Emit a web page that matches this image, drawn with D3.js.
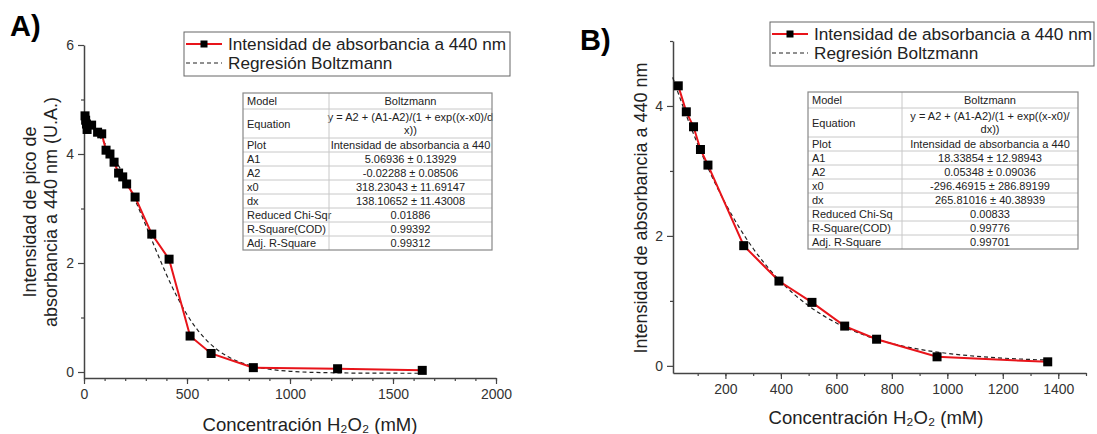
<!DOCTYPE html>
<html>
<head>
<meta charset="utf-8">
<script src="https://cdn.jsdelivr.net/npm/d3@7"></script>
<style>
  body { margin: 0; background: #fff; }
  svg text { font-family: Arial, "Liberation Sans", sans-serif; }
</style>
</head>
<body>
<div id="chart"></div>
<script>
// --- data ---
var concA = [5, 8, 12, 15, 37, 66, 86, 107, 126, 146, 168, 188, 207, 248, 329, 413, 515, 617, 822, 1231, 1642];
var absA  = [4.70, 4.62, 4.55, 4.45, 4.53, 4.40, 4.37, 4.07, 4.00, 3.85, 3.65, 3.58, 3.45, 3.21, 2.53, 2.07, 0.66, 0.34, 0.08, 0.06, 0.03];
var fitConcA = [0, 50, 100, 150, 200, 250, 300, 350, 400, 450, 500, 550, 600, 650, 700, 750, 800, 900, 1000, 1100, 1200, 1400, 1650];
var fitAbsA  = [4.607, 4.430, 4.199, 3.907, 3.551, 3.139, 2.691, 2.231, 1.791, 1.393, 1.054, 0.778, 0.563, 0.400, 0.279, 0.191, 0.128, 0.051, 0.013, -0.005, -0.014, -0.021, -0.023];

var concB = [30, 59, 85, 110, 137, 266, 393, 512, 630, 745, 963, 1362];
var absB  = [4.31, 3.91, 3.68, 3.33, 3.09, 1.85, 1.305, 0.977, 0.612, 0.41, 0.139, 0.062];
var fitConcB = [10, 50, 100, 150, 200, 250, 300, 350, 400, 450, 500, 600, 700, 800, 900, 1000, 1100, 1200, 1300, 1370];
var fitAbsB  = [4.44, 3.959, 3.412, 2.927, 2.500, 2.128, 1.806, 1.530, 1.294, 1.093, 0.924, 0.660, 0.474, 0.344, 0.254, 0.192, 0.149, 0.119, 0.098, 0.088];

var xTicksA = [0, 500, 1000, 1500, 2000];
var yTicksA = [0, 2, 4, 6];
var xTicksB = [200, 400, 600, 800, 1000, 1200, 1400];
var yTicksB = [0, 2, 4];

var legendLabels = ["Intensidad de absorbancia a 440 nm", "Regresión Boltzmann"];

var statsA = [
  ["Model", "Boltzmann"],
  ["Equation", "y = A2 + (A1-A2)/(1 + exp((x-x0)/d", "x))"],
  ["Plot", "Intensidad de absorbancia a 440"],
  ["A1", "5.06936 ± 0.13929"],
  ["A2", "-0.02288 ± 0.08506"],
  ["x0", "318.23043 ± 11.69147"],
  ["dx", "138.10652 ± 11.43008"],
  ["Reduced Chi-Sqr", "0.01886"],
  ["R-Square(COD)", "0.99392"],
  ["Adj. R-Square", "0.99312"]
];
var statsB = [
  ["Model", "Boltzmann"],
  ["Equation", "y = A2 + (A1-A2)/(1 + exp((x-x0)/", "dx))"],
  ["Plot", "Intensidad de absorbancia a 440"],
  ["A1", "18.33854 ± 12.98943"],
  ["A2", "0.05348 ± 0.09036"],
  ["x0", "-296.46915 ± 286.89199"],
  ["dx", "265.81016 ± 40.38939"],
  ["Reduced Chi-Sq", "0.00833"],
  ["R-Square(COD)", "0.99776"],
  ["Adj. R-Square", "0.99701"]
];

var svg = d3.select("#chart").append("svg")
  .attr("width", 1097).attr("height", 434);

// draws one panel
function drawPanel(p) {
  var x = d3.scaleLinear().domain(p.xDomain).range([p.left, p.right]);
  var y = d3.scaleLinear().domain(p.yDomain).range([p.bottom, p.top]);
  var g = svg.append("g");

  // minor ticks
  g.append("g")
    .attr("transform", "translate(0," + p.bottom + ")")
    .call(d3.axisBottom(x).tickValues(p.xMinor).tickSize(3).tickFormat(""))
    .call(function (a) { a.select(".domain").remove(); });
  g.append("g")
    .attr("transform", "translate(" + p.left + ",0)")
    .call(d3.axisLeft(y).tickValues(p.yMinor).tickSize(3).tickFormat(""))
    .call(function (a) { a.select(".domain").remove(); });

  // major axes
  var xa = g.append("g")
    .attr("transform", "translate(0," + p.bottom + ")")
    .call(d3.axisBottom(x).tickValues(p.xTicks).tickFormat(d3.format("d"))
      .tickSize(6).tickSizeOuter(0).tickPadding(5));
  var ya = g.append("g")
    .attr("transform", "translate(" + p.left + ",0)")
    .call(d3.axisLeft(y).tickValues(p.yTicks).tickFormat(d3.format("d"))
      .tickSize(6).tickSizeOuter(0).tickPadding(4));
  [xa, ya].forEach(function (a) {
    a.selectAll("text").style("font-size", "14px").attr("fill", "#333");
  });
  g.selectAll(".domain").attr("stroke", "#444").attr("stroke-width", 1.5);
  g.selectAll(".tick line").attr("stroke", "#444").attr("stroke-width", 1.2);

  // fit curve
  var fit = d3.zip(p.fitX, p.fitY);
  g.append("path")
    .datum(fit)
    .attr("fill", "none")
    .attr("stroke", "#222")
    .attr("stroke-width", 1.2)
    .attr("stroke-dasharray", "4,3")
    .attr("d", d3.line().curve(d3.curveMonotoneX)
      .x(function (d) { return x(d[0]); })
      .y(function (d) { return y(d[1]); }));

  // data line
  var pts = d3.zip(p.dataX, p.dataY);
  g.append("path")
    .datum(pts)
    .attr("fill", "none")
    .attr("stroke", "#e8141a")
    .attr("stroke-width", 2)
    .attr("d", d3.line()
      .x(function (d) { return x(d[0]); })
      .y(function (d) { return y(d[1]); }));

  g.selectAll(".pt")
    .data(pts)
    .enter()
    .append("rect")
      .attr("x", function (d) { return x(d[0]) - 4.5; })
      .attr("y", function (d) { return y(d[1]) - 4.5; })
      .attr("width", 9).attr("height", 9)
      .attr("fill", "#000");

  // axis titles
  g.append("text")
    .attr("x", p.xTitleX).attr("y", p.xTitleY)
    .attr("text-anchor", "middle")
    .style("font-size", "18.5px").attr("fill", "#222")
    .text("Concentración H₂O₂ (mM)");
  p.yTitle.forEach(function (line, i) {
    g.append("text")
      .attr("transform", "translate(" + p.yTitleX[i] + "," + p.yTitleY + ") rotate(-90)")
      .attr("text-anchor", "middle")
      .style("font-size", "18px").attr("fill", "#222")
      .text(line);
  });

  // panel letter
  g.append("text")
    .attr("x", p.letterX).attr("y", p.letterY)
    .style("font-size", "29px").style("font-weight", "bold")
    .text(p.letter);

  // legend
  var lg = g.append("g").attr("transform", "translate(" + p.legX + "," + p.legY + ")");
  lg.append("rect")
    .attr("width", p.legW).attr("height", 44)
    .attr("fill", "#fff").attr("stroke", "#666").attr("stroke-width", 1);
  lg.append("line").attr("x1", 2).attr("x2", 38).attr("y1", 12).attr("y2", 12)
    .attr("stroke", "#e8141a").attr("stroke-width", 2);
  lg.append("rect").attr("x", 16.5).attr("y", 8.5).attr("width", 7).attr("height", 7).attr("fill", "#000");
  lg.append("line").attr("x1", 2).attr("x2", 38).attr("y1", 31).attr("y2", 31)
    .attr("stroke", "#222").attr("stroke-width", 1.2).attr("stroke-dasharray", "4,3");
  legendLabels.forEach(function (t, i) {
    lg.append("text").attr("x", 44).attr("y", 18 + i * 19)
      .style("font-size", "17.2px").attr("fill", "#222").text(t);
  });

  // stats table
  var tg = g.append("g").attr("transform", "translate(" + p.tabX + "," + p.tabY + ")");
  var rowH = p.stats.map(function (r, i) { return i === 0 ? 16 : (r.length > 2 ? 29 : 14); });
  var total = d3.sum(rowH);
  var yy = 0;
  p.stats.forEach(function (r, i) {
    if (i > 0) {
      tg.append("line").attr("x1", 0).attr("x2", p.tabW).attr("y1", yy).attr("y2", yy)
        .attr("stroke", "#c8c8c8").attr("stroke-width", 1);
    }
    var h = rowH[i];
    tg.append("text").attr("x", 4).attr("y", yy + h / 2 + 4)
      .style("font-size", "11px").attr("fill", "#222").text(r[0]);
    var vals = r.slice(1);
    vals.forEach(function (v, j) {
      tg.append("text")
        .attr("x", p.colX + (p.tabW - p.colX) / 2)
        .attr("y", yy + h / 2 + 4 + (j - (vals.length - 1) / 2) * 13)
        .attr("text-anchor", "middle")
        .style("font-size", "11px").attr("fill", "#222").text(v);
    });
    yy += h;
  });
  tg.append("line").attr("x1", p.colX).attr("x2", p.colX).attr("y1", 0).attr("y2", total)
    .attr("stroke", "#c8c8c8").attr("stroke-width", 1);
  tg.append("rect").attr("width", p.tabW).attr("height", total)
    .attr("fill", "none").attr("stroke", "#888").attr("stroke-width", 1.2);
}

drawPanel({
  left: 84, right: 496, top: 45, bottom: 378,
  xDomain: [0, 2000], yDomain: [-0.11, 6],
  xTicks: xTicksA, yTicks: yTicksA,
  xMinor: d3.range(0, 2001, 100), yMinor: [1, 3, 5],
  dataX: concA, dataY: absA, fitX: fitConcA, fitY: fitAbsA,
  xTitleX: 310, xTitleY: 431,
  yTitle: ["Intensidad de pico de", "absorbancia a 440 nm (U.A.)"],
  yTitleX: [36, 57], yTitleY: 212,
  letter: "A)", letterX: 10, letterY: 36,
  legX: 184, legY: 32, legW: 326,
  stats: statsA, tabX: 243, tabY: 93, tabW: 249, colX: 86
});

drawPanel({
  left: 673, right: 1086, top: 41, bottom: 373,
  xDomain: [11, 1500], yDomain: [-0.11, 5],
  xTicks: xTicksB, yTicks: yTicksB,
  xMinor: d3.range(100, 1501, 100), yMinor: [1, 3, 5],
  dataX: concB, dataY: absB, fitX: fitConcB, fitY: fitAbsB,
  xTitleX: 876, xTitleY: 424,
  yTitle: ["Intensidad de absorbancia a 440 nm"],
  yTitleX: [647], yTitleY: 208,
  letter: "B)", letterX: 580, letterY: 50,
  legX: 770, legY: 22, legW: 324,
  stats: statsB, tabX: 808, tabY: 92, tabW: 270, colX: 94
});
</script>
</body>
</html>
